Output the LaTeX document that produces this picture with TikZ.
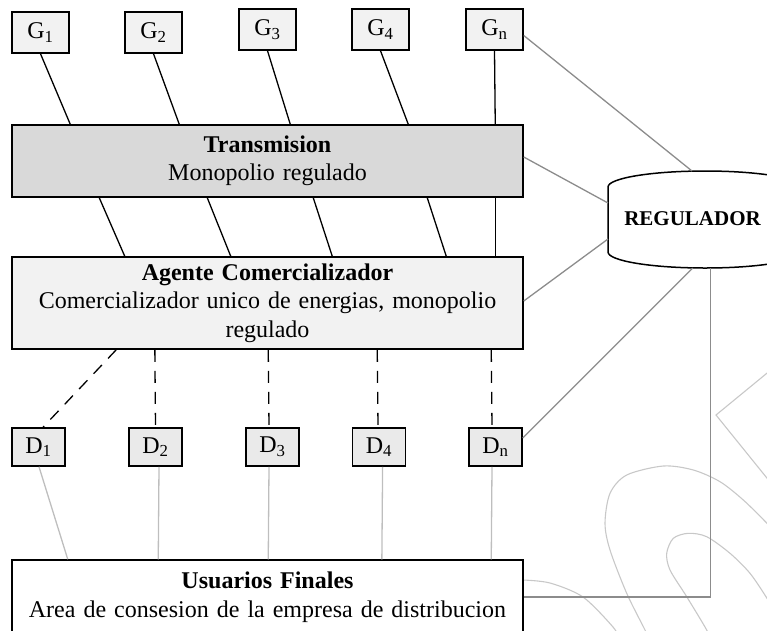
\documentclass[tikz,border=0pt]{standalone}
\usepackage{fontspec}
\setmainfont{Liberation Serif}
\usetikzlibrary{arrows.meta,positioning,calc}
\definecolor{boxfill}{RGB}{242,242,242}
\definecolor{transfill}{RGB}{217,217,217}
\definecolor{distfill}{RGB}{234,234,234}
\definecolor{regline}{RGB}{140,140,140}
\definecolor{userline}{RGB}{190,190,190}
\definecolor{faint}{RGB}{200,200,200}
\tikzset{
  big/.style={font=\fontsize{24}{28.5}\selectfont},
  unit/.style={draw=black,line width=1.5pt,fill=#1,minimum width=57pt,minimum height=41pt,
    inner sep=0pt,big},
  unit/.default=boxfill,
  stage/.style={draw=black,line width=1.5pt,fill=#1,minimum width=511pt,text width=500pt,
    align=center,inner sep=0pt,big},
  stage/.default=white,
  wire/.style={line width=1.3pt,draw=#1},
  wire/.default=black,
  dashwire/.style={dash pattern=on 12pt off 9pt},
  stroke/.style={draw=faint,line width=1.1pt},
}

\begin{document}
\begin{tikzpicture}[x=1pt,y=-1pt]
  \useasboundingbox (0,0) rectangle (767,630);
  \clip (0,0) rectangle (767,630);
  % background strokes
  \draw[stroke] (800,346) -- (716,415) -- (800,519);
  \draw[stroke] plot[smooth] coordinates {(523,580) (550,583) (583,597) (613,627) (620,640)};
  \draw[stroke] plot[smooth] coordinates {(652,645) (645,630) (626.7,593.3) (610,550) (605,523.3)
    (610,493.3) (626.7,475) (663.3,466) (693.3,470) (720,481.7) (743.3,500) (767,523.3) (790,548)};
  \draw[stroke] plot[smooth] coordinates {(713,645) (706.7,630) (686.7,596.7) (670,570) (666.7,553.3)
    (673.3,538.3) (688.3,533.3) (706.7,536.7) (730,553.3) (750,573.3) (767,598.3) (780,620)};

  % generators
  \foreach \n/\x/\y in {1/40.5/32.5,2/153.5/32.5,3/267.5/29.5,4/380.5/29.5,n/494.5/29.5}
    \node[unit] (g\n) at (\x,\y) {G\textsubscript{\n}};
  \node[stage=transfill,minimum height=72pt] (trans) at (267.5,161)
    {\textbf{Transmision}\\Monopolio regulado};
  \node[stage=boxfill,minimum height=92pt] (agente) at (267.5,303)
    {\textbf{Agente Comercializador}\\Comercializador unico de energias, monopolio\\regulado};
  % distributors
  \foreach \n/\x in {1/38.5,2/155.5,3/272.5,4/379,n/495.5}
    \node[unit=distfill,minimum width=53pt,minimum height=38pt] (d\n) at (\x,447) {D\textsubscript{\n}};
  \node[stage,minimum height=74pt] (usuarios) at (267.5,597)
    {\textbf{Usuarios Finales}\\Area de consesion de la empresa de distribucion};

  % regulator
  \draw[line width=1.5pt,fill=white] (608,187) -- (608,252)
    .. controls (608,260.8) and (651.4,268) .. (705,268)
    .. controls (758.6,268) and (802,260.8) .. (802,252) -- (802,187)
    .. controls (802,178.2) and (758.6,171) .. (705,171)
    .. controls (651.4,171) and (608,178.2) .. (608,187) -- cycle;
  \node[font=\fontsize{21}{25}\selectfont\bfseries] (reg) at (692.5,219) {REGULADOR};
  \coordinate (rtop) at (692,171);
  \coordinate (rleft1) at (608,203);
  \coordinate (rleft2) at (608,239);
  \coordinate (rbot1) at (692.7,268);
  \coordinate (rbot2) at (710.7,268);

  \foreach \n/\s in {1/59,2/168,3/279,4/397,n/484}
    \draw[wire] (g\n.south) -- ([xshift=\s pt]trans.north west);
  \foreach \a/\b in {88/113.5,196/219.5,302/321,416/435,484/484}
    \draw[wire] ([xshift=\a pt]trans.south west) -- ([xshift=\b pt]agente.north west);
  \foreach \n/\a/\b in {1/105/4.5,2/143.6/0,3/257/-3.5,4/366/-1,n/480/-3.5}
    \draw[wire,dashwire] ([xshift=\a pt]agente.south west) -- ([xshift=\b pt]d\n.north);
  \foreach \n/\a/\b in {1/0.5/56.5,2/3.5/147,3/-3.5/257,4/3.6/370.6,n/-3.5/480}
    \draw[wire=userline] ([xshift=\a pt]d\n.south) -- ([xshift=\b pt]usuarios.north west);

  \draw[wire=regline] ([yshift=-6pt]gn.east) -- (rtop);
  \draw[wire=regline] ([yshift=4pt]trans.east) -- (rleft1);
  \draw[wire=regline] ([yshift=2pt]agente.east) -- (rleft2);
  \draw[wire=regline] ([yshift=9pt]dn.east) -- (rbot1);
  \draw[wire=regline] (rbot2) |- (usuarios.east);
\end{tikzpicture}
\end{document}
